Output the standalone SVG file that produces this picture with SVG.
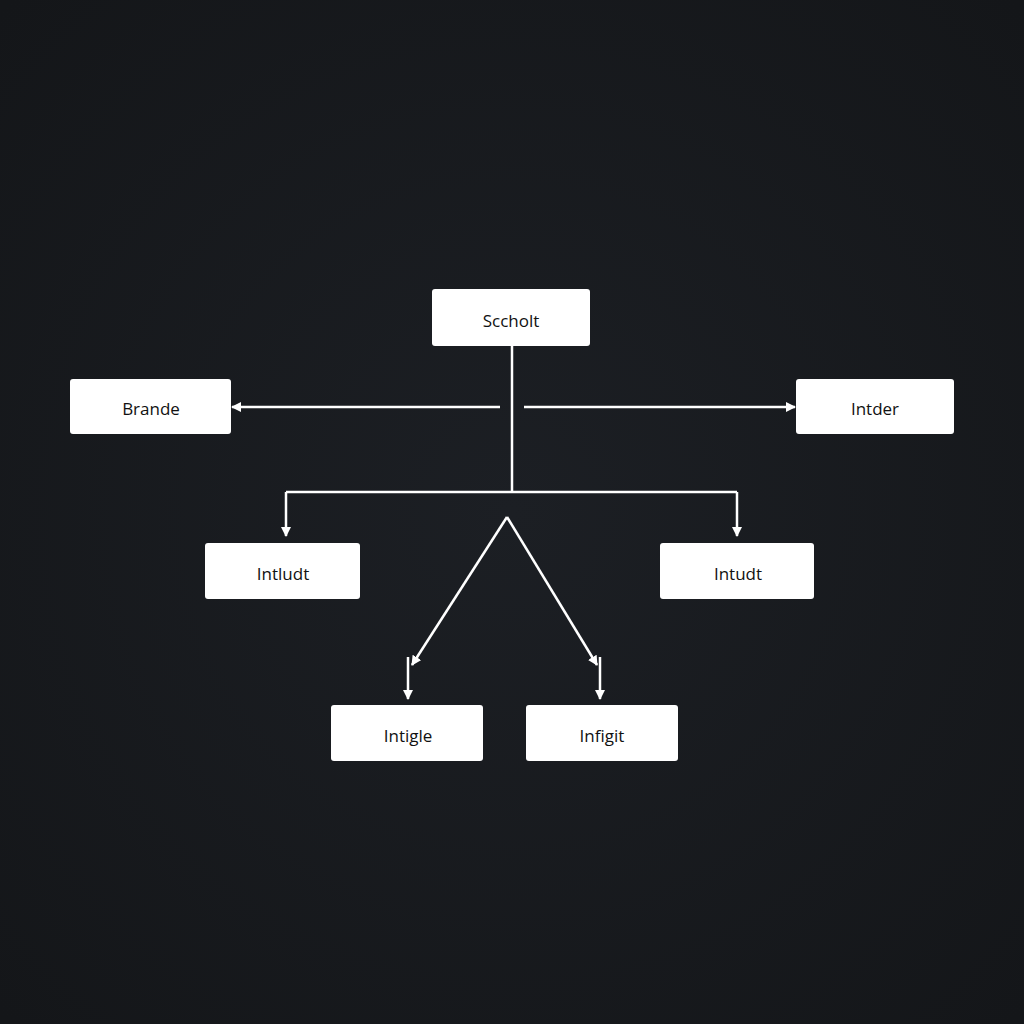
<svg xmlns="http://www.w3.org/2000/svg" width="1024" height="1024" viewBox="0 0 1024 1024">
<defs>
<marker id="ah" viewBox="0 0 10 10" refX="9" refY="5" markerWidth="4" markerHeight="4" orient="auto" markerUnits="strokeWidth"><path d="M0,0 L10,5 L0,10 z" fill="#fff"/></marker>
<radialGradient id="bg" cx="50%" cy="50%" r="70%"><stop offset="0" stop-color="#1c1f24"/><stop offset="1" stop-color="#141619"/></radialGradient>
</defs>
<style>
.n rect{fill:#fff;rx:3px}
.n text{font-family:"Open Sans","Noto Sans",sans-serif;font-size:17px;fill:#111;text-anchor:middle;dominant-baseline:central}
.c path{stroke:#fff;stroke-width:2.5;fill:none}
.a{marker-end:url(#ah)}
</style>
<rect width="1024" height="1024" fill="url(#bg)"/>
<g class="c" id="connectors">
<path d="M512,346 V492"/>
<path class="a" d="M500,407 H232"/>
<path class="a" d="M524,407 H795"/>
<path d="M286,492 H737"/>
<path class="a" d="M286,492 V536"/>
<path class="a" d="M737,492 V536"/>
<path class="a" d="M507,517 L412,665"/>
<path class="a" d="M507,517 L597,665"/>
<path class="a" d="M408,657 V699"/>
<path class="a" d="M600,657 V699"/>
</g>
<g class="n" id="n-scholt"><rect x="432" y="289" width="158" height="57"/><text x="511" y="320">Sccholt</text></g>
<g class="n" id="n-brande"><rect x="70" y="379" width="161" height="55"/><text x="151" y="408">Brande</text></g>
<g class="n" id="n-intder"><rect x="796" y="379" width="158" height="55"/><text x="875" y="408">Intder</text></g>
<g class="n" id="n-intludt"><rect x="205" y="543" width="155" height="56"/><text x="283" y="573">Intludt</text></g>
<g class="n" id="n-intudt"><rect x="660" y="543" width="154" height="56"/><text x="738" y="573">Intudt</text></g>
<g class="n" id="n-intigle"><rect x="331" y="705" width="152" height="56"/><text x="408" y="735">Intigle</text></g>
<g class="n" id="n-infigit"><rect x="526" y="705" width="152" height="56"/><text x="602" y="735">Infigit</text></g>
</svg>
